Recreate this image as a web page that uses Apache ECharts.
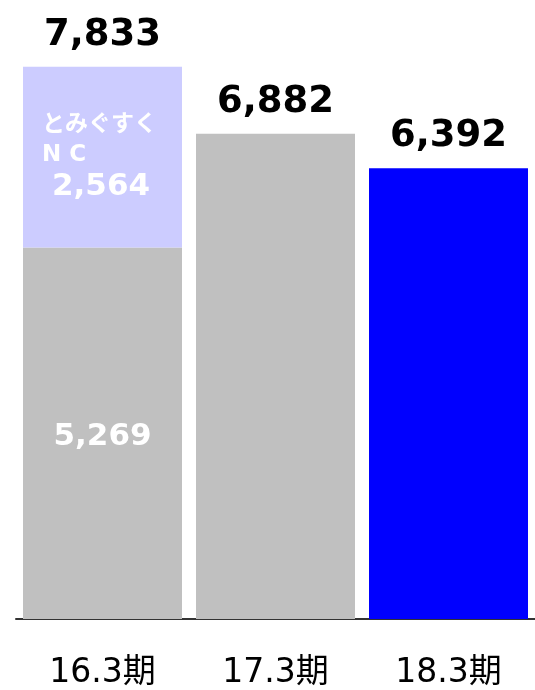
<!DOCTYPE html>
<html>
<head>
<meta charset="utf-8">
<script src="https://cdn.jsdelivr.net/npm/echarts@6/dist/echarts.min.js"></script>
<style>
  html, body { margin: 0; padding: 0; background: #fff; }
  #chart { width: 535px; height: 690px; }
</style>
</head>
<body>
<div id="chart"></div>
<script>
const categories = ['16.3期', '17.3期', '18.3期']
const baseValues = [5269, 6882, 6392]
const ncValues = [2564, null, null]
const ncName = ['とみぐすく', 'N C']
const barColors = ['#C0C0C0', '#C0C0C0', '#0000FF']

const font = '"DejaVu Sans", "Noto Sans CJK JP", sans-serif'
const fmt = v => v.toLocaleString('en-US')
const totals = baseValues.map((v, i) => v + (ncValues[i] || 0))

let myChart = echarts.init(document.getElementById('chart'))
myChart.setOption({
  animation: false,
  grid: { left: 16, right: 0, top: 55, bottom: 69 },
  xAxis: {
    type: 'category',
    data: categories,
    axisTick: { show: false },
    axisLine: { lineStyle: { color: '#333', width: 2 } },
    axisLabel: { color: '#000', fontSize: 33, fontFamily: font, margin: 38 }
  },
  yAxis: {
    type: 'value',
    min: 0,
    max: 8000,
    show: false,
    splitLine: { show: false }
  },
  series: [
    {
      name: 'base',
      type: 'bar',
      stack: 'total',
      barWidth: 159,
      data: baseValues.map((v, i) => ({
        value: v,
        itemStyle: { color: barColors[i] },
        label: {
          show: i === 0 && ncValues[i] != null,
          position: 'inside',
          offset: [0, 4],
          formatter: p => fmt(p.value),
          color: '#fff',
          fontWeight: 'bold',
          fontSize: 31,
          fontFamily: font
        }
      }))
    },
    {
      name: 'nc',
      type: 'bar',
      stack: 'total',
      barWidth: 159,
      itemStyle: { color: '#CCCCFF' },
      data: ncValues.map(v => (v == null ? '-' : v)),
      label: {
        show: true,
        position: [19, 43],
        align: 'left',
        verticalAlign: 'top',
        formatter: p => ncName.map(s => '{a|' + s + '}').join('\n') + '\n{n|' + fmt(p.value) + '}',
        rich: {
          a: { color: '#fff', fontSize: 23, fontWeight: 'bold', fontFamily: font, lineHeight: 30 },
          n: { color: '#fff', fontSize: 31, fontWeight: 'bold', fontFamily: font, lineHeight: 34, padding: [0, 0, 0, 10] }
        }
      }
    },
    {
      name: 'total',
      type: 'bar',
      stack: 'total',
      barWidth: 159,
      itemStyle: { color: 'transparent' },
      data: totals.map(() => 0),
      label: {
        show: true,
        position: 'top',
        distance: 13,
        formatter: p => fmt(totals[p.dataIndex]),
        color: '#000',
        fontWeight: 'bold',
        fontSize: 37,
        fontFamily: font
      }
    }
  ]
})
</script>
</body>
</html>
